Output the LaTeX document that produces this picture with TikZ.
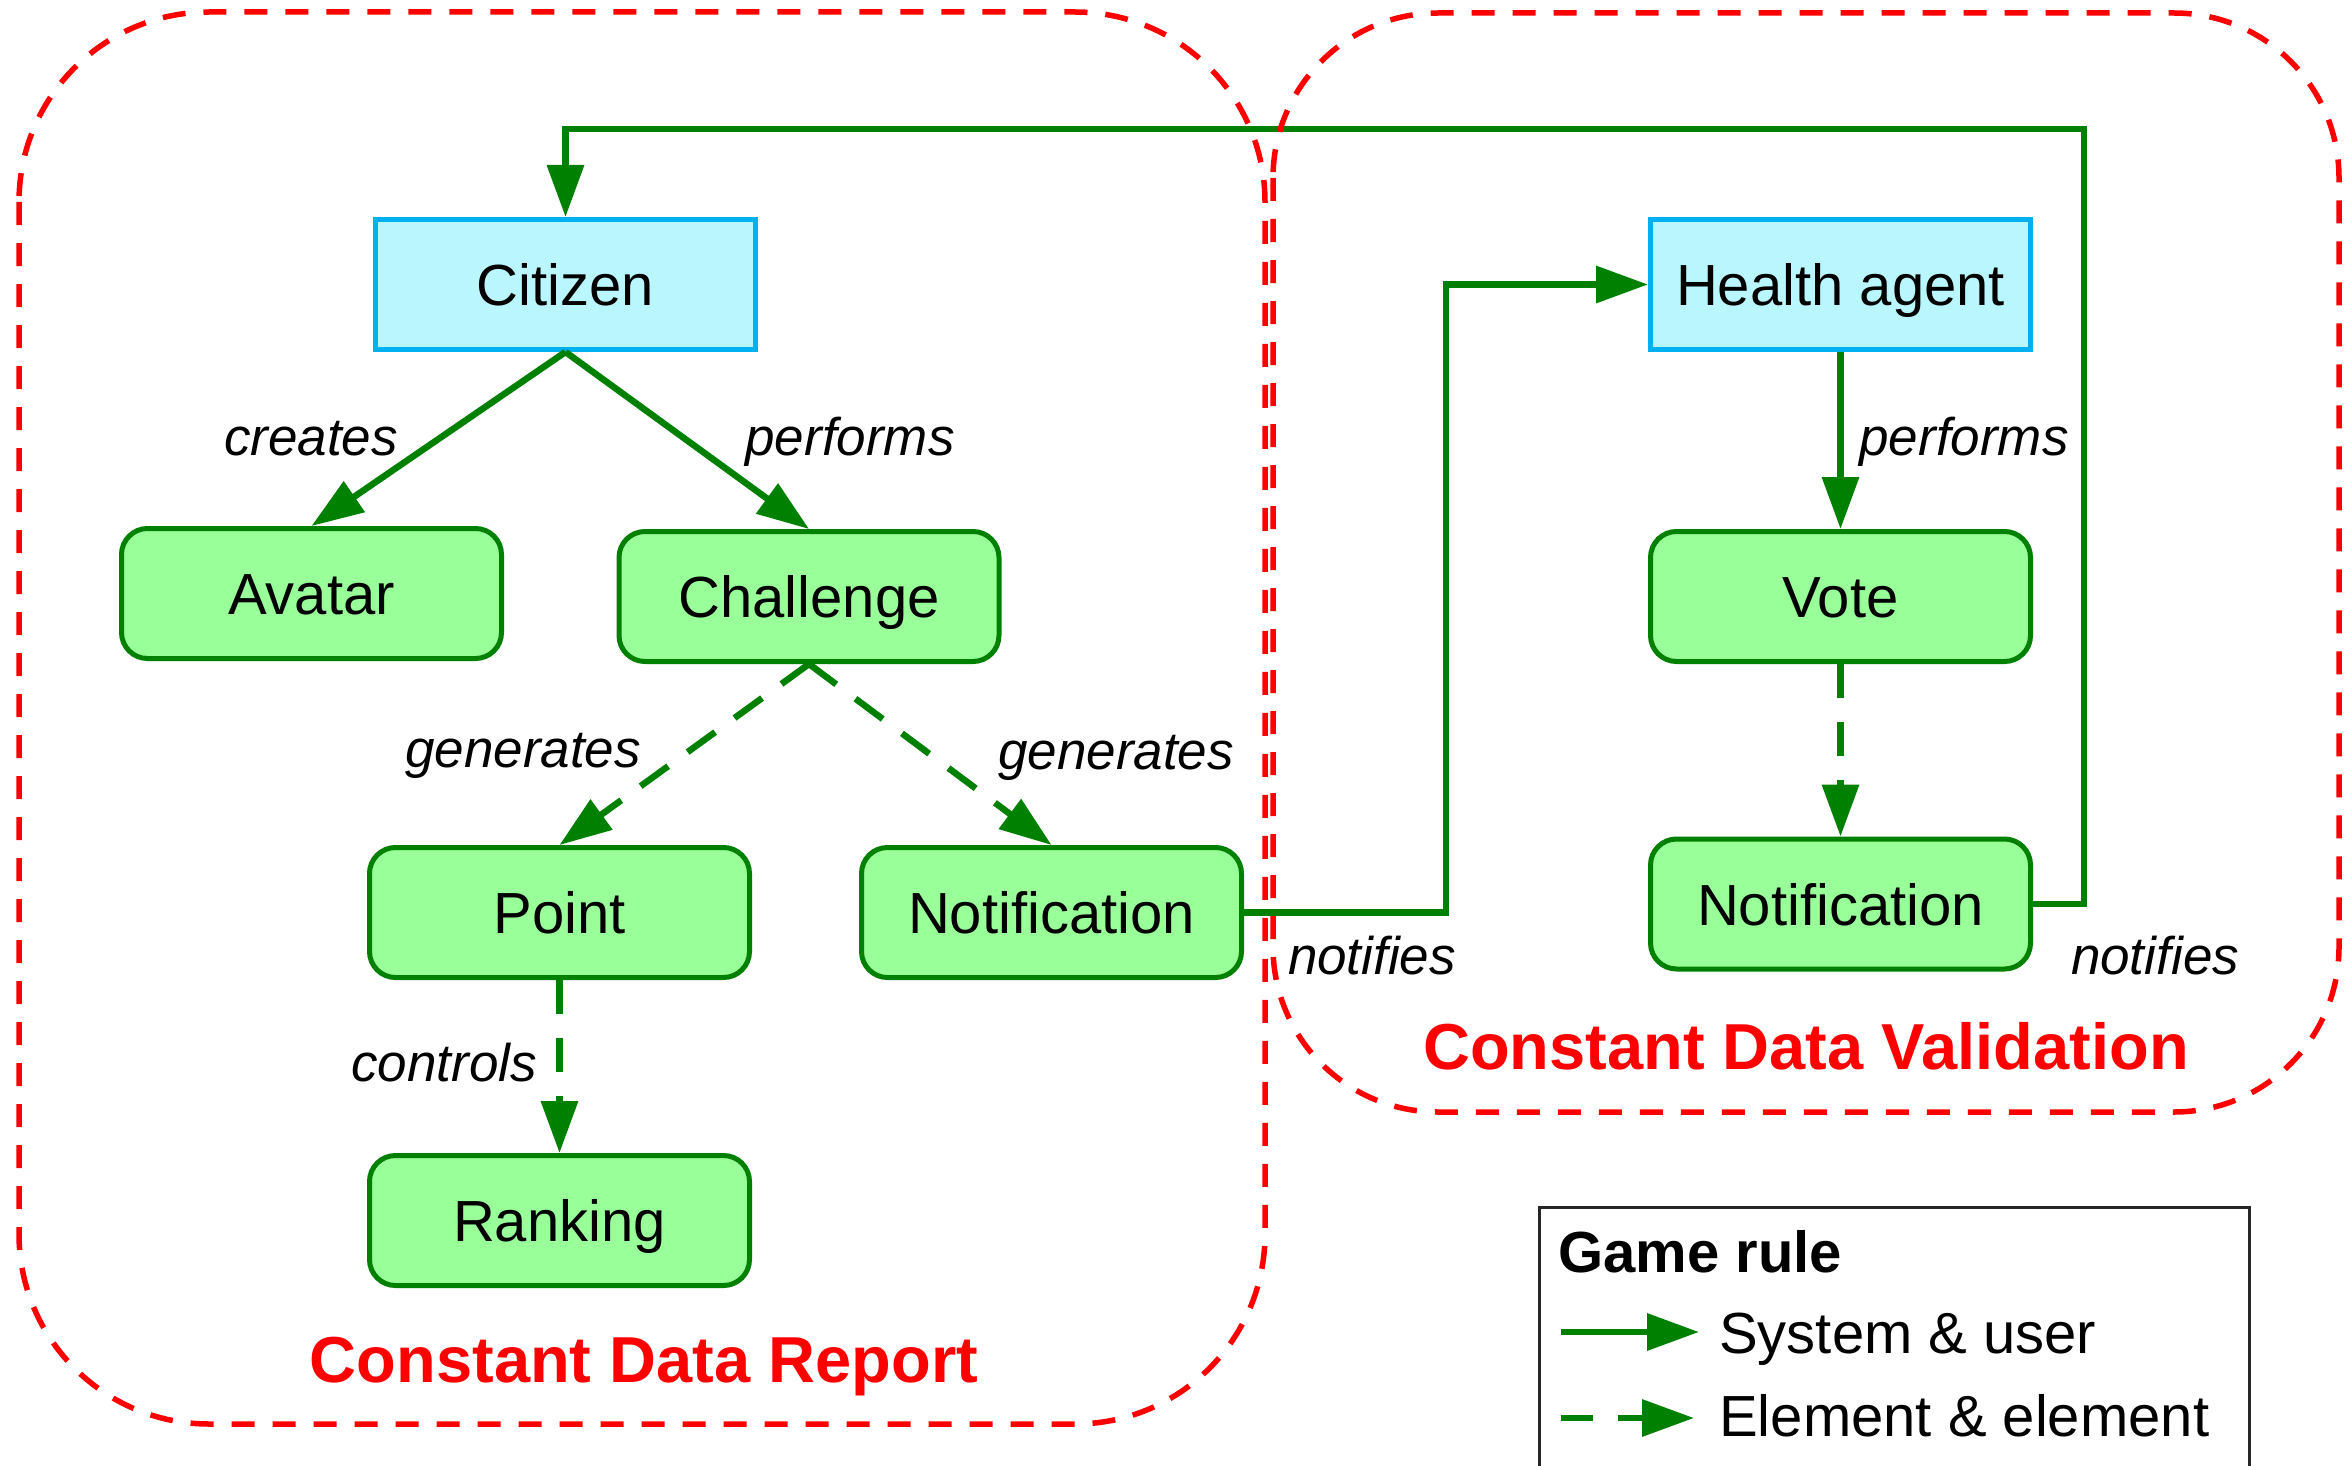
\documentclass[tikz,border=0pt]{standalone}
\usepackage{fontspec}
\setmainfont{Liberation Sans}
\usetikzlibrary{arrows.meta}
\definecolor{gdark}{HTML}{008000}
\definecolor{gfill}{HTML}{99FF99}
\definecolor{cfill}{HTML}{B9F6FE}
\definecolor{cline}{HTML}{00B0F0}
\definecolor{rline}{HTML}{FF0000}
\tikzset{
  elem/.style={draw=gdark, fill=gfill, line width=5pt, rounded corners=26pt,
    minimum width=380pt, minimum height=130pt, inner sep=0pt,
    text height=54pt, text depth=12pt,
    font=\fontsize{58}{70}\selectfont},
  actor/.style={draw=cline, fill=cfill, line width=5pt,
    minimum width=380pt, minimum height=130pt, inner sep=0pt,
    text height=54pt, text depth=12pt,
    font=\fontsize{58}{70}\selectfont},
  lbl/.style={anchor=base, inner sep=0pt, font=\fontsize{53}{64}\selectfont\itshape},
  ttl/.style={anchor=base, inner sep=0pt, text=rline, font=\fontsize{65}{78}\selectfont\bfseries},
  legtxt/.style={anchor=base west, inner sep=0pt, font=\fontsize{58}{70}\selectfont},
  sysarrow/.style={draw=gdark, line width=6.5pt, -{Triangle[length=52pt, width=36pt]}},
  elarrow/.style={sysarrow, dash pattern=on 34pt off 24pt},
  region/.style={draw=rline, line width=5.5pt, dash pattern=on 23pt off 18pt}
}
\begin{document}
\begin{tikzpicture}[x=1pt, y=-1pt]
\useasboundingbox (0,0) rectangle (2347,1466);
\fill[white] (0,0) rectangle (2347,1466);

% nodes
\node[actor] (citizen) at (565.5,284.5) {Citizen};
\node[elem] (avatar) at (311.5,593.5) {Avatar};
\node[elem] (challenge) at (809,596.5) {Challenge};
\node[elem] (point) at (559.5,912.5) {Point};
\node[elem] (notif1) at (1051.5,912.5) {Notification};
\node[elem] (ranking) at (559.5,1220.5) {Ranking};
\node[actor] (health) at (1840.5,284.5) {Health agent};
\node[elem] (vote) at (1840.5,596.5) {Vote};
\node[elem] (notif2) at (1840.5,904) {Notification};

% routing points
\coordinate (loopR) at (2084,129);
\coordinate (midR) at (1446,600);

% connectors
\draw[sysarrow] (citizen.south) -- (avatar.north);
\draw[sysarrow] (citizen.south) -- (challenge.north);
\draw[elarrow] (challenge.south) -- (point.north);
\draw[elarrow] (challenge.south) -- (notif1.north);
\draw[elarrow] (point.south) -- (ranking.north);
\draw[sysarrow] (health.south) -- (vote.north);
\draw[elarrow] (vote.south) -- (notif2.north);
\draw[sysarrow] (notif1.east) -| (midR) |- (health.west);
\draw[sysarrow] (notif2.east) -| (loopR) -| (citizen.north);

% labels
\node[lbl] (lcreates) at (311,455) {creates};
\node[lbl] (lperf1) at (850,455) {performs};
\node[lbl] (lgen1) at (523,767) {generates};
\node[lbl] (lgen2) at (1116,769) {generates};
\node[lbl] (lcontrols) at (444,1081) {controls};
\node[lbl] (lnotif1) at (1372,974) {notifies};
\node[lbl] (lperf2) at (1964,455) {performs};
\node[lbl] (lnotif2) at (2155,974) {notifies};

% regions
\draw[region, rounded corners=190pt] (19,12) rectangle (1265,1424);
\draw[region, rounded corners=165pt] (1273,13) rectangle (2339,1112);
\node[ttl] (treport) at (644,1382) {Constant Data Report};
\node[ttl] (tvalid) at (1806,1069) {Constant Data Validation};

% legend
\draw[line width=3pt, draw=black!85] (1539,1480) -- (1539,1207) -- (2249,1207) -- (2249,1480);
\node[anchor=base west, inner sep=0pt, font=\fontsize{58}{70}\selectfont\bfseries] (legtitle) at (1558,1272) {Game rule};
\coordinate (la1) at (1561,1332);
\coordinate (lb1) at (1699,1332);
\coordinate (la2) at (1561,1418);
\coordinate (lb2) at (1694,1418);
\draw[sysarrow] (la1) -- (lb1);
\draw[sysarrow, dash pattern=on 32pt off 25pt] (la2) -- (lb2);
\node[legtxt] (legsys) at (1719,1353) {System \& user};
\node[legtxt] (legel) at (1719,1436) {Element \& element};
\end{tikzpicture}
\end{document}
